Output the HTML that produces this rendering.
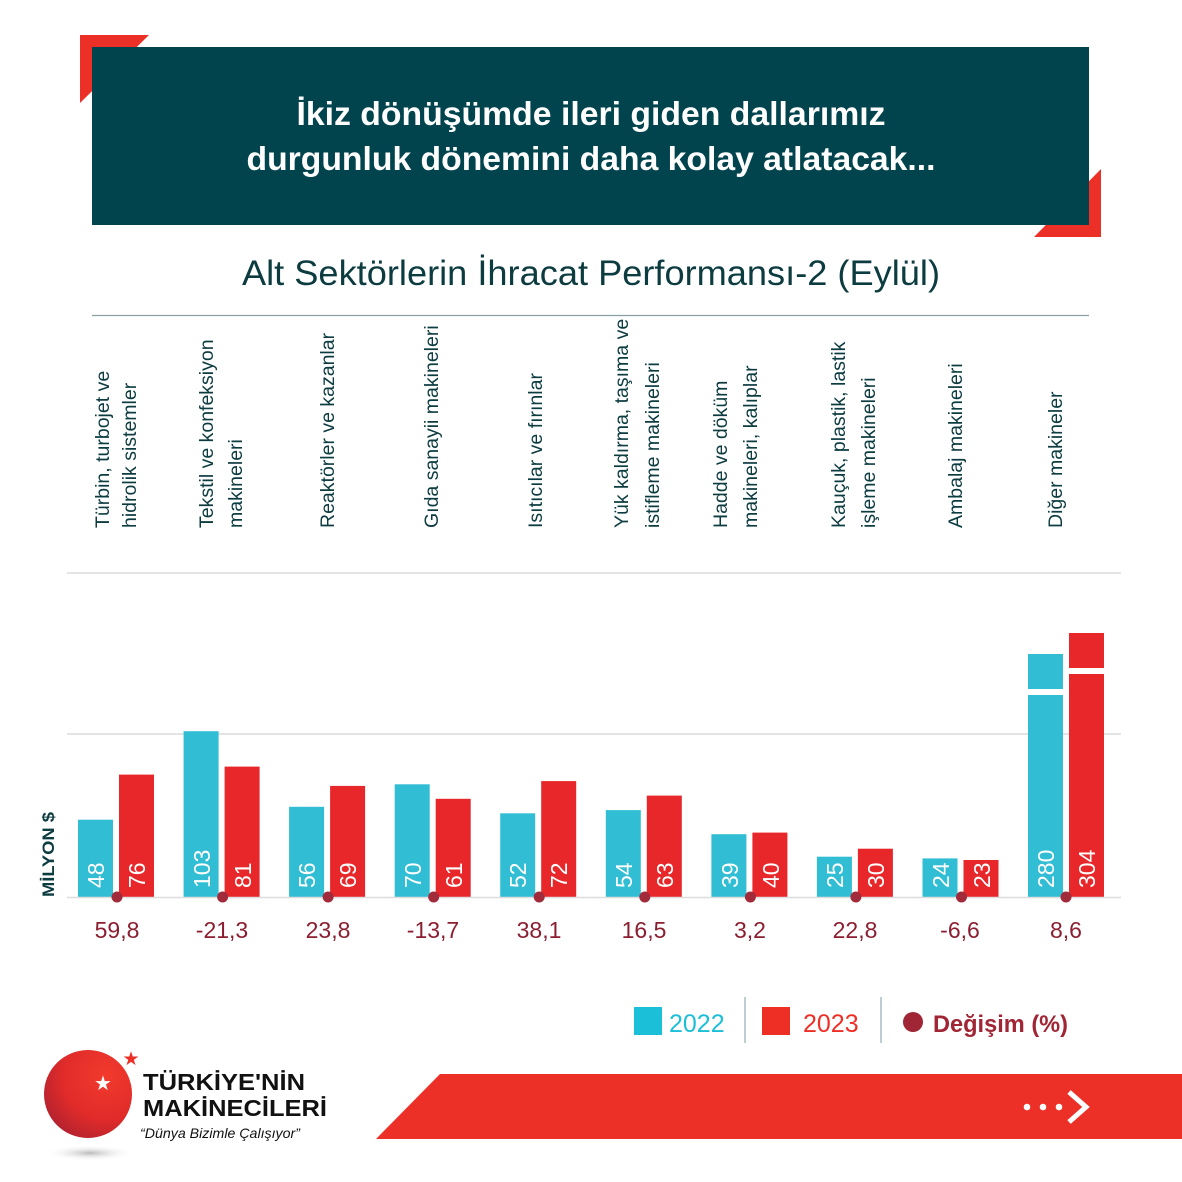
<!DOCTYPE html>
<html><head><meta charset="utf-8"><style>
html,body{margin:0;padding:0;background:#fff;}
svg{display:block;}
</style></head><body>
<svg width="1182" height="1182" viewBox="0 0 1182 1182" xmlns="http://www.w3.org/2000/svg" font-family="'Liberation Sans', sans-serif">
<defs>
<radialGradient id="g" cx="0.7" cy="0.3" r="0.9">
<stop offset="0" stop-color="#f23a2c"/><stop offset="0.55" stop-color="#e02b2a"/><stop offset="1" stop-color="#a31f30"/>
</radialGradient>
<radialGradient id="sh" cx="0.5" cy="0.5" r="0.5">
<stop offset="0" stop-color="#bbb"/><stop offset="1" stop-color="#fff" stop-opacity="0"/>
</radialGradient>
</defs>
<rect width="1182" height="1182" fill="#fff"/>
<polygon points="80,35 149,35 80,103" fill="#ec3027"/>
<polygon points="1101,237 1034,237 1101,169" fill="#ec3027"/>
<rect x="92" y="47" width="997" height="178" fill="#02444d"/>
<text x="591" y="125" text-anchor="middle" fill="#fff" font-size="33" font-weight="bold" textLength="589" lengthAdjust="spacingAndGlyphs">İkiz dönüşümde ileri giden dallarımız</text>
<text x="591" y="170" text-anchor="middle" fill="#fff" font-size="33" font-weight="bold" textLength="689" lengthAdjust="spacingAndGlyphs">durgunluk dönemini daha kolay atlatacak...</text>
<text x="591" y="285" text-anchor="middle" fill="#0c3b40" font-size="35" textLength="698" lengthAdjust="spacingAndGlyphs">Alt Sektörlerin İhracat Performansı-2 (Eylül)</text>
<line x1="92" y1="315.5" x2="1089" y2="315.5" stroke="#8aa0a3" stroke-width="1.2"/>
<g fill="#0c3b40" font-size="19.5">
<text transform="translate(109,528) rotate(-90)">Türbin, turbojet ve</text>
<text transform="translate(136,528) rotate(-90)">hidrolik sistemler</text>
<text transform="translate(213,528) rotate(-90)">Tekstil ve konfeksiyon</text>
<text transform="translate(242,528) rotate(-90)">makineleri</text>
<text transform="translate(334,528) rotate(-90)">Reaktörler ve kazanlar</text>
<text transform="translate(438,528) rotate(-90)">Gıda sanayii makineleri</text>
<text transform="translate(542,528) rotate(-90)">Isıtıcılar ve fırınlar</text>
<text transform="translate(628,528) rotate(-90)">Yük kaldırma, taşıma ve</text>
<text transform="translate(659,528) rotate(-90)">istifleme makineleri</text>
<text transform="translate(727,528) rotate(-90)">Hadde ve döküm</text>
<text transform="translate(757,528) rotate(-90)">makineleri, kalıplar</text>
<text transform="translate(845,528) rotate(-90)">Kauçuk, plastik, lastik</text>
<text transform="translate(875,528) rotate(-90)">işleme makineleri</text>
<text transform="translate(962,528) rotate(-90)">Ambalaj makineleri</text>
<text transform="translate(1062,528) rotate(-90)">Diğer makineler</text>
</g>
<g stroke="#e4e4e4" stroke-width="2">
<line x1="67" y1="573" x2="1121" y2="573"/>
<line x1="67" y1="734" x2="1121" y2="734"/>
</g>
<text transform="translate(54,897) rotate(-90)" fill="#0c3b40" font-size="17" font-weight="bold" textLength="85" lengthAdjust="spacingAndGlyphs">MİLYON $</text>
<g fill="#31bdd4">
<rect x="78" y="819.7" width="35" height="77.3"/>
<rect x="183.6" y="731.2" width="35" height="165.8"/>
<rect x="289.1" y="806.8" width="35" height="90.2"/>
<rect x="394.7" y="784.3" width="35" height="112.7"/>
<rect x="500.2" y="813.3" width="35" height="83.7"/>
<rect x="605.8" y="810.1" width="35" height="86.9"/>
<rect x="711.4" y="834.2" width="35" height="62.8"/>
<rect x="816.9" y="856.7" width="35" height="40.3"/>
<rect x="922.5" y="858.4" width="35" height="38.6"/>
<rect x="1028" y="654" width="35" height="35"/>
<rect x="1028" y="695" width="35" height="202"/>
</g>
<g fill="#e8272a">
<rect x="119" y="774.6" width="35" height="122.4"/>
<rect x="224.6" y="766.6" width="35" height="130.4"/>
<rect x="330.1" y="785.9" width="35" height="111.1"/>
<rect x="435.7" y="798.8" width="35" height="98.2"/>
<rect x="541.2" y="781.1" width="35" height="115.9"/>
<rect x="646.8" y="795.6" width="35" height="101.4"/>
<rect x="752.4" y="832.6" width="35" height="64.4"/>
<rect x="857.9" y="848.7" width="35" height="48.3"/>
<rect x="963.5" y="860" width="35" height="37"/>
<rect x="1069" y="633" width="35" height="35"/>
<rect x="1069" y="674" width="35" height="223"/>
</g>
<line x1="67" y1="897.5" x2="1121" y2="897.5" stroke="#ddd" stroke-width="1.5"/>
<g fill="#fff" font-size="23">
<text transform="translate(104,888) rotate(-90)">48</text>
<text transform="translate(145,888) rotate(-90)">76</text>
<text transform="translate(210,888) rotate(-90)">103</text>
<text transform="translate(251,888) rotate(-90)">81</text>
<text transform="translate(315,888) rotate(-90)">56</text>
<text transform="translate(356,888) rotate(-90)">69</text>
<text transform="translate(421,888) rotate(-90)">70</text>
<text transform="translate(462,888) rotate(-90)">61</text>
<text transform="translate(526,888) rotate(-90)">52</text>
<text transform="translate(567,888) rotate(-90)">72</text>
<text transform="translate(632,888) rotate(-90)">54</text>
<text transform="translate(673,888) rotate(-90)">63</text>
<text transform="translate(738,888) rotate(-90)">39</text>
<text transform="translate(779,888) rotate(-90)">40</text>
<text transform="translate(843,888) rotate(-90)">25</text>
<text transform="translate(884,888) rotate(-90)">30</text>
<text transform="translate(949,888) rotate(-90)">24</text>
<text transform="translate(990,888) rotate(-90)">23</text>
<text transform="translate(1054,888) rotate(-90)">280</text>
<text transform="translate(1095,888) rotate(-90)">304</text>
</g>
<g fill="#a12b3a">
<circle cx="117" cy="897" r="5.5"/><circle cx="222.6" cy="897" r="5.5"/><circle cx="328.1" cy="897" r="5.5"/>
<circle cx="433.7" cy="897" r="5.5"/><circle cx="539.2" cy="897" r="5.5"/><circle cx="644.8" cy="897" r="5.5"/>
<circle cx="750.4" cy="897" r="5.5"/><circle cx="855.9" cy="897" r="5.5"/><circle cx="961.5" cy="897" r="5.5"/>
<circle cx="1066" cy="897" r="5.5"/>
</g>
<g fill="#8b1e30" font-size="23" text-anchor="middle">
<text x="117" y="938">59,8</text><text x="222" y="938">-21,3</text><text x="328" y="938">23,8</text>
<text x="433" y="938">-13,7</text><text x="539" y="938">38,1</text><text x="644" y="938">16,5</text>
<text x="750" y="938">3,2</text><text x="855" y="938">22,8</text><text x="960" y="938">-6,6</text>
<text x="1066" y="938">8,6</text>
</g>
<rect x="634" y="1007" width="28" height="28" fill="#1cbfd8"/>
<text x="669" y="1032" fill="#1cbfd8" font-size="25">2022</text>
<line x1="745" y1="997" x2="745" y2="1043" stroke="#7a9ea3" stroke-width="1"/>
<rect x="762" y="1007" width="28" height="28" fill="#ee2f26"/>
<text x="803" y="1032" fill="#ee2f26" font-size="25">2023</text>
<line x1="881" y1="997" x2="881" y2="1043" stroke="#7a9ea3" stroke-width="1"/>
<circle cx="913" cy="1022" r="10" fill="#a02535"/>
<text x="933" y="1032" fill="#a02535" font-size="24" font-weight="bold" textLength="135" lengthAdjust="spacingAndGlyphs">Değişim (%)</text>
<polygon points="376,1139 440,1074 1182,1074 1182,1139" fill="#ed3027"/>
<g fill="#fff"><circle cx="1027" cy="1107" r="3.3"/><circle cx="1043" cy="1107" r="3.3"/><circle cx="1059" cy="1107" r="3.3"/></g>
<polyline points="1069,1092 1086,1107 1069,1122" fill="none" stroke="#fff" stroke-width="5"/>
<ellipse cx="90" cy="1153" rx="45" ry="8" fill="url(#sh)"/>
<circle cx="88" cy="1094" r="44" fill="url(#g)"/>
<text x="103" y="1090" fill="#fff" font-size="20" text-anchor="middle">★</text>
<text x="131" y="1065" fill="#ee2f26" font-size="19" text-anchor="middle">★</text>
<text x="143" y="1090" fill="#111" font-size="23" font-weight="bold" textLength="162" lengthAdjust="spacingAndGlyphs">TÜRKİYE'NİN</text>
<text x="143" y="1116" fill="#111" font-size="23" font-weight="bold" textLength="184" lengthAdjust="spacingAndGlyphs">MAKİNECİLERİ</text>
<text x="140" y="1138" fill="#111" font-size="14" font-style="italic" textLength="160" lengthAdjust="spacingAndGlyphs">“Dünya Bizimle Çalışıyor”</text>
</svg>
</body></html>
